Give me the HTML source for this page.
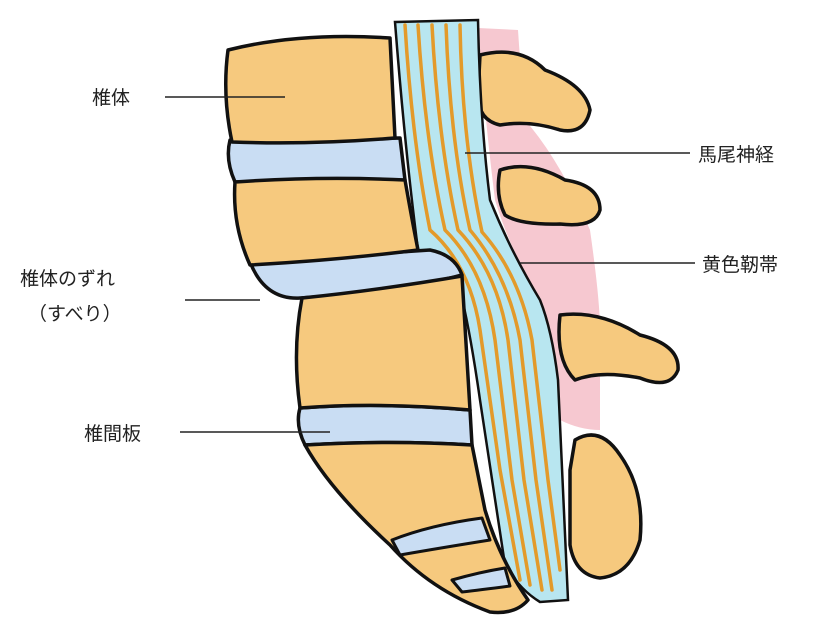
<!DOCTYPE html>
<html><head><meta charset="utf-8"><style>
html,body{margin:0;padding:0;background:#fff;}
svg{display:block;}
text{font-family:"Liberation Sans","Noto Sans CJK JP",sans-serif;font-size:19px;fill:#222;}
</style></head><body>
<svg width="839" height="636" viewBox="0 0 839 636" xmlns="http://www.w3.org/2000/svg">
<path d="M478,28 L518,30 Q522,90 525,120 Q560,160 590,230 Q600,300 600,330 L600,430 Q580,430 560,420 L540,300 Q510,250 495,200 Q485,120 478,28 Z" fill="#F6C8D0"/>
<g fill="#F6C97E" stroke="#111" stroke-width="3.5" stroke-linejoin="round">
<path d="M480,55 Q520,45 545,70 Q585,85 590,110 Q585,135 560,130 Q530,120 500,125 Q478,120 478,95 Z"/>
<path d="M500,170 Q530,160 565,180 Q600,185 600,210 Q595,228 560,224 Q520,225 505,215 Q495,195 500,170 Z"/>
<path d="M560,315 Q600,310 640,335 Q680,345 678,370 Q670,390 640,378 Q600,370 575,380 Q555,360 560,315 Z"/>
<path d="M575,440 Q600,425 620,455 Q645,490 640,540 Q630,575 600,578 Q575,575 570,545 L570,470 Z"/>
</g>
<path d="M395,22 L478,20 Q480,120 490,200 Q510,250 540,300 Q552,330 558,380 L568,600 L540,602 Q520,590 505,565 L480,400 Q470,330 460,290 Q440,260 418,250 Q405,150 395,22 Z" fill="#B8E6F0" stroke="#111" stroke-width="2.5"/>
<g fill="none" stroke="#E39A2A" stroke-width="3.5" stroke-linecap="round">
<path d="M405,25 Q412,140 430,230 Q470,265 480,330 L500,470 L520,580"/>
<path d="M418,25 Q425,140 445,230 Q485,270 495,340 L512,480 L530,585"/>
<path d="M432,25 Q438,140 458,230 Q498,272 508,340 L524,480 L542,590"/>
<path d="M446,25 Q450,140 470,230 Q508,275 520,340 L536,480 L552,590"/>
<path d="M460,25 Q462,140 482,232 Q520,275 532,340 L548,480 L560,570"/>
</g>
<g fill="#C9DDF3" stroke="#111" stroke-width="3.5" stroke-linejoin="round">
<path d="M230,140 L400,138 L405,180 L235,182 Q225,160 230,140 Z"/>
<path d="M250,262 Q350,255 430,250 Q455,255 462,275 Q400,292 300,298 Q265,300 250,262 Z"/>
<path d="M300,408 Q380,402 470,410 L472,445 Q390,440 305,445 Q295,425 300,408 Z"/>
</g>
<g fill="#F6C97E" stroke="#111" stroke-width="3.5" stroke-linejoin="round">
<path d="M228,50 Q300,32 390,38 L395,138 Q310,145 232,142 Q222,95 228,50 Z"/>
<path d="M235,182 Q320,176 405,180 Q412,220 418,250 Q340,260 250,265 Q232,225 235,182 Z"/>
<path d="M302,298 Q380,290 462,276 L470,410 Q380,402 300,408 Q292,350 302,298 Z"/>
<path d="M305,445 Q390,440 472,445 L485,510 Q500,560 528,600 Q515,615 490,612 Q430,590 390,545 Q330,490 305,445 Z"/>
</g>
<g fill="#C9DDF3" stroke="#111" stroke-width="3" stroke-linejoin="round">
<path d="M392,540 Q430,525 482,518 L490,540 Q440,548 400,555 Z"/>
<path d="M452,580 Q480,572 505,568 L510,586 Q480,590 462,592 Z"/>
</g>
<g stroke="#222" stroke-width="1.5">
<line x1="165" y1="97" x2="285" y2="97"/>
<line x1="465" y1="153" x2="690" y2="153"/>
<line x1="520" y1="263" x2="695" y2="263"/>
<line x1="185" y1="300" x2="260" y2="300"/>
<line x1="180" y1="432" x2="330" y2="432"/>
</g>
<text x="92" y="104">椎体</text>
<text x="698" y="161">馬尾神経</text>
<text x="702" y="271">黄色靭帯</text>
<text x="20" y="285">椎体のずれ</text>
<text x="28" y="320">（すべり）</text>
<text x="84" y="440">椎間板</text>
</svg>
</body></html>
